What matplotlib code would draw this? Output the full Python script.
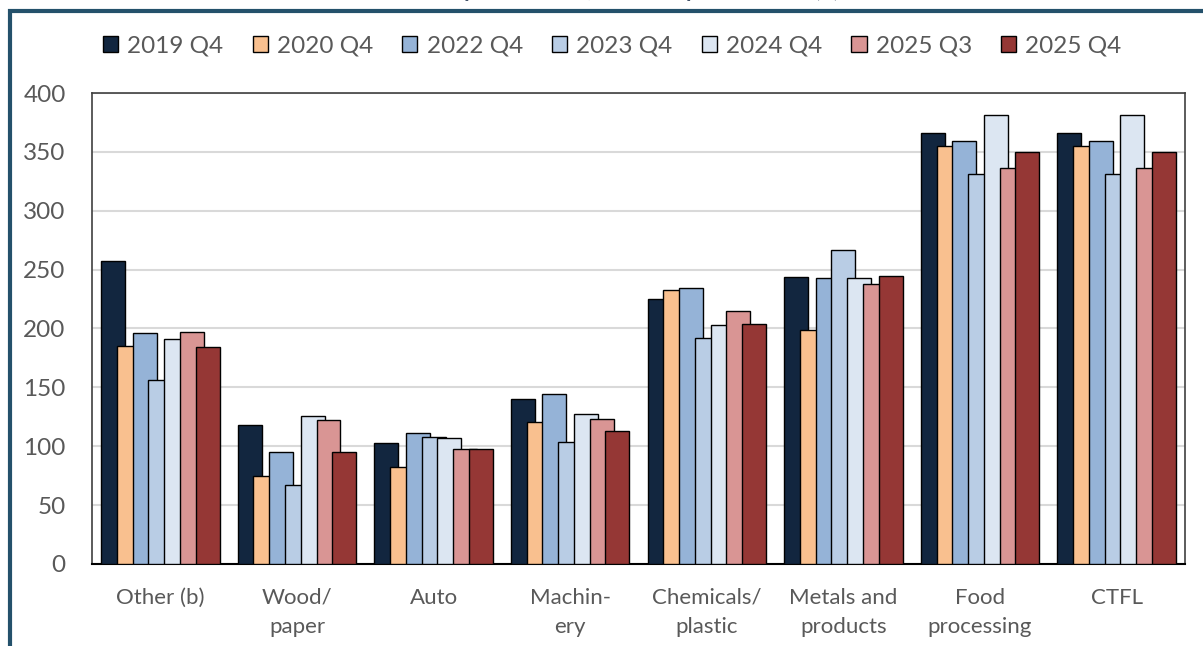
import matplotlib
matplotlib.use("Agg")
import matplotlib.pyplot as plt
from matplotlib.patches import Rectangle
import numpy as np

plt.rcParams['font.family'] = ['Lato', 'DejaVu Sans']

categories = ["Other (b)", "Wood/\npaper", "Auto", "Machin-\nery", "Chemicals/\nplastic",
              "Metals and\nproducts", "Food\nprocessing", "CTFL"]
series = ["2019 Q4", "2020 Q4", "2022 Q4", "2023 Q4", "2024 Q4", "2025 Q3", "2025 Q4"]

q4_2019 = [257, 118, 103, 140, 225, 244, 366, 366]
q4_2020 = [185, 75, 82, 121, 233, 199, 355, 355]
q4_2022 = [196, 95, 111, 144, 234, 243, 359, 359]
q4_2023 = [156, 67, 108, 104, 192, 267, 331, 331]
q4_2024 = [191, 126, 107, 127, 203, 243, 381, 381]
q3_2025 = [197, 122, 98, 123, 215, 238, 336, 336]
q4_2025 = [184, 95, 98, 113, 204, 245, 350, 350]
values = [q4_2019, q4_2020, q4_2022, q4_2023, q4_2024, q3_2025, q4_2025]

colors = ["#12263f", "#f9c08f", "#95b3d7", "#b9cde5", "#dce6f2", "#d99594", "#953735"]

fig = plt.figure(figsize=(12.03, 6.46), dpi=100)
ax = fig.add_axes([0.0765, 0.127, 0.9085, 0.729])

x = np.arange(len(categories))
width = 0.175
step = 0.1153
offsets = (np.arange(len(series)) - 3) * step
for i in range(len(series)):
    ax.bar(x + offsets[i], values[i], width=width, color=colors[i], edgecolor="black",
           linewidth=1, label=series[i], zorder=3 + i)

ax.set_xlim(-0.5, len(categories) - 0.5)
ax.set_ylim(0, 400)
ax.set_yticks(range(0, 401, 50))
ax.yaxis.grid(True, color="#d9d9d9", linewidth=1.5, zorder=0)
ax.set_axisbelow(True)
ax.set_xticks(x)
ax.set_xticklabels(categories, linespacing=1.6)
ax.tick_params(axis="x", length=0, pad=17, labelsize=16, labelcolor="#595959")
ax.tick_params(axis="y", length=0, pad=19, labelsize=17.5, labelcolor="#595959")
for s in ax.spines.values():
    s.set_color("#404040")
    s.set_linewidth(1.2)
ax.spines["bottom"].set_color("black")
ax.spines["bottom"].set_linewidth(1.5)

fig.legend(loc="center", bbox_to_anchor=(0.509, 1 - 46 / 646), ncol=7, frameon=False,
           fontsize=17.5, handlelength=0.62, handleheight=0.62, handletextpad=0.38,
           columnspacing=1.2, labelcolor="#595959")

# outer frame of the original figure box
frame = Rectangle((10 / 1203, -0.1), 1.2, 1 - 11 / 646 + 0.1, transform=fig.transFigure,
                  fill=False, edgecolor="#24516b", linewidth=3, clip_on=False)
fig.patches.append(frame)

# title is cut off at the top of the original picture
fig.text(0.505, 1 + 3 / 646, "and 4th quarter 2019, and 4th quarter 2025 ($)", ha="center",
         va="baseline", fontsize=16, fontweight="bold", color="#44546a")

fig.savefig("out.png", dpi=100)
